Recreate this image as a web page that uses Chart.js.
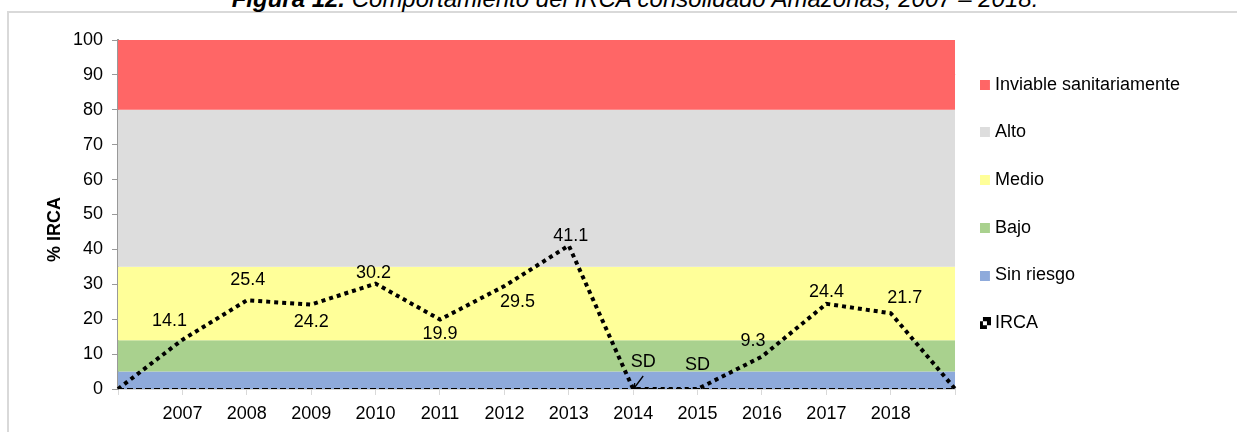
<!DOCTYPE html>
<html>
<head>
<meta charset="utf-8">
<script src="https://cdn.jsdelivr.net/npm/chart.js@4.4.1/dist/chart.umd.min.js"></script>
<style>
  html, body { margin: 0; padding: 0; background: #fff; overflow: hidden; }
  #wrap { position: relative; width: 1237px; height: 432px; overflow: hidden; }
  #frame { position: absolute; left: 7px; top: 11px; width: 1300px; height: 500px; border-left: 2px solid #d9d9d9; border-top: 2px solid #d9d9d9; box-sizing: border-box; }
  #title { position: absolute; left: 0; width: 1270px; top: -13px; text-align: center; white-space: nowrap;
           font: italic 24px "Liberation Sans", Arial, sans-serif; line-height: 24px; color: #000; }
  #chart { position: absolute; left: 0; top: 0; }
</style>
</head>
<body>
<div id="wrap">
  <div id="frame"></div>
  <div id="title"><b>Figura 12.</b> Comportamiento del IRCA consolidado Amazonas, 2007 – 2018.</div>
  <canvas id="chart" width="1237" height="432"></canvas>
</div>
<script>
// Data
const years = ['', '2007', '2008', '2009', '2010', '2011', '2012', '2013', '2014', '2015', '2016', '2017', '2018', ''];
const irca = [0, 14.1, 25.4, 24.2, 30.2, 19.9, 29.5, 41.1, 0, 0, 9.3, 24.4, 21.7, 0];
const sinDato = ['2014', '2015'];

// Risk bands (upper limit of each level)
const bandNames = ['Inviable sanitariamente', 'Alto', 'Medio', 'Bajo', 'Sin riesgo'];
const bandTops = [100, 80, 35, 14, 5];
const bandColors = ['#ff6666', '#dddddd', '#ffff99', '#a9d18e', '#8eaadb'];

// where each value label sits relative to its point
const labelOffsets = {
  '2007': [-13, -19], '2008': [1, -20], '2009': [0, 17], '2010': [-2, -11],
  '2011': [0, 14], '2012': [13, 16], '2013': [2, -10], '2014': [10, -27],
  '2015': [0, -24], '2016': [-9, -16], '2017': [0, -12], '2018': [14, -15]
};

const FONT = '"Liberation Sans", Arial, sans-serif';
Chart.defaults.font.family = FONT;
Chart.defaults.font.size = 18;
Chart.defaults.color = '#000';

function squareMarker(color) {
  const c = document.createElement('canvas');
  c.width = 11; c.height = 10;
  const g = c.getContext('2d');
  g.fillStyle = color;
  g.fillRect(0, 0, 10, 10);
  return c;
}

function checkerMarker() {
  const c = document.createElement('canvas');
  c.width = 11; c.height = 12;
  const g = c.getContext('2d');
  g.fillStyle = '#000';
  const cells = [[1, 0], [2, 0], [0, 1], [2, 1], [0, 2], [1, 2]];
  cells.forEach(([cx, cy]) => g.fillRect(cx * 4 - 1, cy * 4, 4, 4));
  return c;
}

const bandSets = bandNames.map((name, i) => ({
  label: name,
  data: years.map(() => bandTops[i]),
  backgroundColor: bandColors[i],
  borderColor: 'transparent',
  borderWidth: 0,
  pointRadius: 0,
  pointStyle: squareMarker(bandColors[i]),
  fill: i === bandNames.length - 1 ? 'origin' : '+1'
}));

const pointLabels = {
  id: 'pointLabels',
  afterDatasetsDraw(chart) {
    const ctx = chart.ctx;
    const meta = chart.getDatasetMeta(0);
    ctx.save();
    ctx.font = '18px ' + FONT;
    ctx.fillStyle = '#000';
    ctx.textAlign = 'center';
    ctx.textBaseline = 'middle';
    meta.data.forEach((pt, i) => {
      const year = years[i];
      if (!year) return;
      const off = labelOffsets[year];
      const text = sinDato.includes(year) ? 'SD' : irca[i].toFixed(1);
      ctx.fillText(text, pt.x + off[0], pt.y + off[1]);
    });
    // little arrow from the first SD label to its point
    const p = meta.data[years.indexOf(sinDato[0])];
    const tx = p.x + 1, ty = p.y - 1;
    ctx.strokeStyle = '#000';
    ctx.lineWidth = 1.3;
    ctx.beginPath();
    ctx.moveTo(p.x + 10, p.y - 13);
    ctx.lineTo(tx, ty);
    ctx.moveTo(tx, ty);
    ctx.lineTo(tx + 5, ty);
    ctx.moveTo(tx, ty);
    ctx.lineTo(tx + 0.5, ty - 5);
    ctx.stroke();
    ctx.restore();
  }
};

new Chart(document.getElementById('chart'), {
  type: 'line',
  data: {
    labels: years,
    datasets: [
      {
        label: 'IRCA',
        data: irca,
        borderColor: '#000',
        borderWidth: 4,
        borderDash: [4, 4],
        borderCapStyle: 'butt',
        pointRadius: 0,
        pointStyle: checkerMarker(),
        tension: 0,
        fill: false
      },
      {
        label: 'cero',
        data: years.map(() => 0),
        borderColor: '#000',
        borderWidth: 2,
        borderDash: [6, 3],
        pointRadius: 0,
        fill: false
      },
      ...bandSets
    ]
  },
  options: {
    responsive: false,
    animation: false,
    devicePixelRatio: 1,
    layout: { padding: { top: 40, right: 47, bottom: 0, left: 0 } },
    plugins: {
      tooltip: { enabled: false },
      legend: {
        position: 'right',
        align: 'start',
        title: { display: true, text: '', font: { size: 1 }, padding: { top: 2.4, bottom: 2.4 } },
        labels: {
          usePointStyle: true,
          pointStyleWidth: 1,
          padding: 29.7,
          color: '#000',
          font: { size: 18 },
          filter: item => item.text !== 'cero',
          sort: (a, b) => ((a.datasetIndex === 0) - (b.datasetIndex === 0)) || (a.datasetIndex - b.datasetIndex)
        }
      }
    },
    scales: {
      x: {
        offset: false,
        ticks: { autoSkip: false, maxRotation: 0, padding: 8, color: '#000' },
        grid: { drawOnChartArea: false, color: '#d9d9d9', tickLength: 6 },
        border: { color: '#d9d9d9' },
        afterFit(scale) { scale.height = 43; }
      },
      y: {
        min: 0,
        max: 100,
        z: 1,
        ticks: { stepSize: 10, padding: 9, color: '#000' },
        grid: {
          color: c => (c.tick && c.tick.value === 90 ? 'rgba(200,50,50,0.5)' : 'transparent'),
          tickColor: '#999',
          tickLength: 6
        },
        border: { color: '#999', width: 2 },
        title: {
          display: true,
          text: '% IRCA      ',
          font: { size: 18, weight: 'bold' },
          color: '#000',
          padding: { top: 44, bottom: 0 }
        },
        afterFit(scale) { scale.width = 118; }
      }
    }
  },
  plugins: [pointLabels]
});
</script>
</body>
</html>
